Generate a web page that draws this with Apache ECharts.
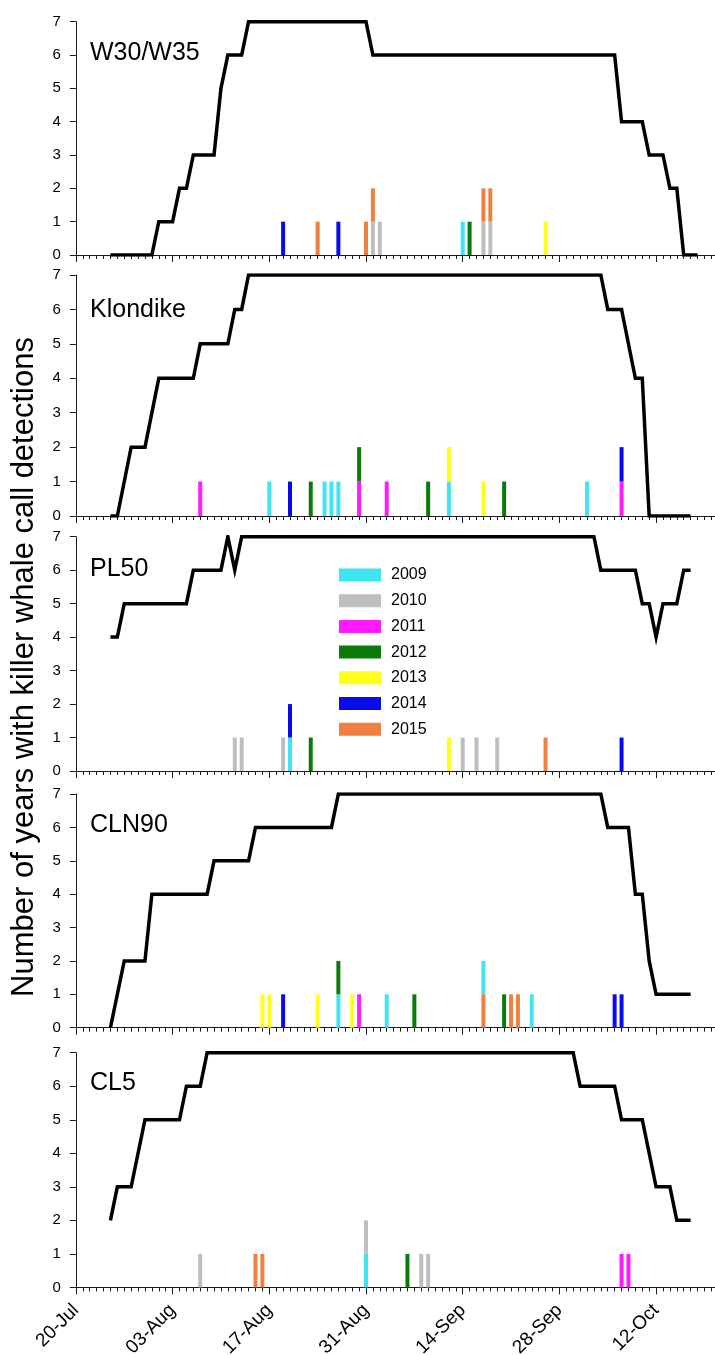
<!DOCTYPE html>
<html>
<head>
<meta charset="utf-8">
<script src="https://cdn.jsdelivr.net/npm/echarts@6/dist/echarts.min.js"></script>
<style>
html,body{margin:0;padding:0;background:#fff;}
#chart{width:715px;height:1355px;}
</style>
</head>
<body>
<div id="chart"></div>
<script>
// ---- data (x = days since 20-Jul) ----
const tickLabels = ['20-Jul','03-Aug','17-Aug','31-Aug','14-Sep','28-Sep','12-Oct'];
const years = ['2009','2010','2011','2012','2013','2014','2015'];
const panelNames = ['W30/W35','Klondike','PL50','CLN90','CL5'];

// number of years with recording effort: [day, years]
const lineW30 = [[5,0],[11,0],[12,1],[14,1],[15,2],[16,2],[17,3],[20,3],[21,5],[22,6],[24,6],[25,7],[42,7],[43,6],[78,6],[79,4],[82,4],[83,3],[85,3],[86,2],[87,2],[88,0],[90,0]];
const lineKlondike = [[5,0],[6,0],[8,2],[10,2],[12,4],[17,4],[18,5],[22,5],[23,6],[24,6],[25,7],[76,7],[77,6],[79,6],[81,4],[82,4],[83,0],[89,0]];
const linePL50 = [[5,4],[6,4],[7,5],[16,5],[17,6],[21,6],[22,7],[23,6],[24,7],[75,7],[76,6],[81,6],[82,5],[83,5],[84,4],[85,5],[87,5],[88,6],[89,6]];
const lineCLN90 = [[5,0],[7,2],[10,2],[11,4],[19,4],[20,5],[25,5],[26,6],[37,6],[38,7],[76,7],[77,6],[80,6],[81,4],[82,4],[83,2],[84,1],[89,1]];
const lineCL5 = [[5,2],[6,3],[8,3],[10,5],[15,5],[16,6],[18,6],[19,7],[72,7],[73,6],[78,6],[79,5],[82,5],[84,3],[86,3],[87,2],[89,2]];

// killer whale call detections: [day, year, count]; on a shared day the
// entries are stacked bottom-to-top in the order listed
const barsW30 = [[30,'2014',1],[35,'2015',1],[38,'2014',1],[42,'2015',1],[43,'2010',1],[43,'2015',1],[44,'2010',1],[56,'2009',1],[57,'2012',1],[59,'2010',1],[59,'2015',1],[60,'2010',1],[60,'2015',1],[68,'2013',1]];
const barsKlondike = [[18,'2011',1],[28,'2009',1],[31,'2014',1],[34,'2012',1],[36,'2009',1],[37,'2009',1],[38,'2009',1],[41,'2011',1],[41,'2012',1],[45,'2011',1],[51,'2012',1],[54,'2009',1],[54,'2013',1],[59,'2013',1],[62,'2012',1],[74,'2009',1],[79,'2011',1],[79,'2014',1]];
const barsPL50 = [[23,'2010',1],[24,'2010',1],[30,'2010',1],[31,'2009',1],[31,'2014',1],[34,'2012',1],[54,'2013',1],[56,'2010',1],[58,'2010',1],[61,'2010',1],[68,'2015',1],[79,'2014',1]];
const barsCLN90 = [[27,'2013',1],[28,'2013',1],[30,'2014',1],[35,'2013',1],[38,'2009',1],[38,'2012',1],[40,'2013',1],[41,'2011',1],[45,'2009',1],[49,'2012',1],[59,'2015',1],[59,'2009',1],[62,'2012',1],[63,'2015',1],[64,'2015',1],[66,'2009',1],[78,'2014',1],[79,'2014',1]];
const barsCL5 = [[18,'2010',1],[26,'2015',1],[27,'2015',1],[42,'2009',1],[42,'2010',1],[48,'2012',1],[50,'2010',1],[51,'2010',1],[79,'2011',1],[80,'2011',1]];

// ---- styling / layout ----
const yearColors = ['#3FE6F0','#BEBEBE','#FF1AFF','#0A7A0A','#FFFF1A','#0A0AF0','#F08040'];
const lines = [lineW30, lineKlondike, linePL50, lineCLN90, lineCL5];
const bars = [barsW30, barsKlondike, barsPL50, barsCLN90, barsCL5];
const gridTops = [21.7, 275, 536.7, 794, 1052.7];
const gridHeights = [233.3, 241, 234.3, 233.7, 234.7];
const labelYs = [55, 312, 571, 827, 1085];
const FONT = '"Liberation Sans", Arial, sans-serif';
const AX = '#1a1a1a';
const BAR_W = 4;

function barRender(params, api) {
  const base = api.coord([api.value(0), api.value(1)]);
  const top = api.coord([api.value(0), api.value(2)]);
  return {
    type: 'rect',
    shape: {x: base[0] - BAR_W / 2, y: top[1], width: BAR_W, height: base[1] - top[1]},
    style: {fill: api.visual('color')}
  };
}

const grids = [], xAxes = [], yAxes = [], series = [], graphics = [];
for (let p = 0; p < 5; p++) {
  grids.push({left: 75.9, width: 98 * 6.907, top: gridTops[p], height: gridHeights[p],
    containLabel: false, outerBoundsMode: 'none'});
  xAxes.push({
    gridIndex: p, type: 'value', min: 0, max: 98, interval: 14,
    axisLine: {show: true, onZero: false, lineStyle: {color: AX, width: 1}},
    axisTick: {show: true, length: 7, lineStyle: {color: AX, width: 1}},
    minorTick: {show: true, splitNumber: 14, length: 4, lineStyle: {color: AX, width: 1}},
    splitLine: {show: false}, minorSplitLine: {show: false},
    axisLabel: {show: p === 4, rotate: 45, margin: 20, fontSize: 19, fontFamily: FONT, color: '#000',
      formatter: v => (v % 14 === 0 && tickLabels[v / 14]) ? tickLabels[v / 14] : ''}
  });
  yAxes.push({
    gridIndex: p, type: 'value', min: 0, max: 7, interval: 1,
    axisLine: {show: true, lineStyle: {color: AX, width: 1}},
    axisTick: {show: true, length: 6, lineStyle: {color: AX, width: 1}},
    splitLine: {show: false},
    axisLabel: {margin: 15, fontSize: 15, fontFamily: FONT, color: '#000'}
  });
  // stacked segments [day, bottom, top] built from the detection list
  const segs = {};
  const running = {};
  bars[p].forEach(b => {
    const y0 = running[b[0]] || 0;
    running[b[0]] = y0 + b[2];
    (segs[b[1]] = segs[b[1]] || []).push([b[0], y0, y0 + b[2]]);
  });
  years.forEach((yr, yi) => {
    series.push({
      name: yr, type: 'custom', xAxisIndex: p, yAxisIndex: p,
      renderItem: barRender, encode: {x: 0, y: [1, 2]},
      itemStyle: {color: yearColors[yi]},
      data: segs[yr] || [], z: 2, animation: false, clip: false
    });
  });
  series.push({
    type: 'line', xAxisIndex: p, yAxisIndex: p, data: lines[p],
    showSymbol: false, symbol: 'none',
    lineStyle: {color: '#000', width: 3.5, join: 'miter'}, z: 5, animation: false
  });
  graphics.push({
    type: 'text', left: 90, top: labelYs[p] - 14,
    style: {text: panelNames[p], font: '25px ' + FONT, fill: '#000'}
  });
}
graphics.push({
  type: 'text', x: 24, y: 667, rotation: Math.PI / 2,
  style: {text: 'Number of years with killer whale call detections', font: '31px ' + FONT, fill: '#000',
    textAlign: 'center', textVerticalAlign: 'middle'}
});

const chart = echarts.init(document.getElementById('chart'), null, {renderer: 'canvas'});
chart.setOption({
  animation: false,
  backgroundColor: '#fff',
  grid: grids, xAxis: xAxes, yAxis: yAxes, series: series, graphic: graphics,
  legend: {
    data: years.map((y, i) => ({name: y, icon: 'rect', itemStyle: {color: yearColors[i]}})),
    orient: 'vertical', left: 339, top: 567, padding: 0,
    itemWidth: 42, itemHeight: 13, itemGap: 9.7, selectedMode: false,
    textStyle: {fontSize: 16, fontFamily: FONT, color: '#000', padding: [0, 0, 0, 5]}
  }
});
</script>
</body>
</html>
